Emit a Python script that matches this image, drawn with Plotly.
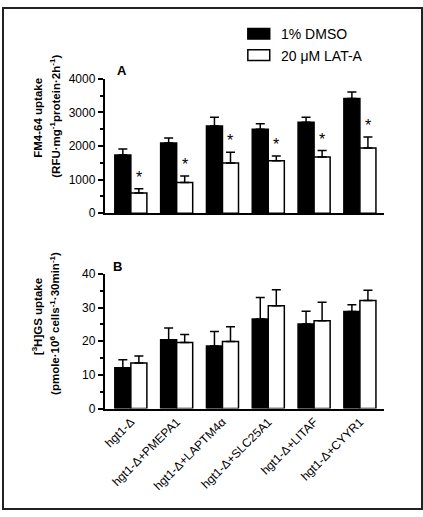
import plotly.graph_objects as go

W, H = 423, 517

categories = ["hgt1-Δ", "hgt1-Δ+PMEPA1", "hgt1-Δ+LAPTM4α",
              "hgt1-Δ+SLC25A1", "hgt1-Δ+LITAF", "hgt1-Δ+CYYR1"]
series_names = ["1% DMSO", "20 μM LAT-A"]

# Panel A: FM4-64 uptake
dmso_a = [1735, 2090, 2595, 2495, 2705, 3410]
dmso_a_err = [175, 145, 260, 165, 150, 195]
lat_a = [600, 915, 1495, 1560, 1675, 1940]
lat_a_err = [125, 190, 320, 145, 190, 325]
sig_a = [True, True, True, True, True, True]

# Panel B: [3H]GS uptake
dmso_b = [12.1, 20.4, 18.6, 26.6, 25.1, 28.8]
dmso_b_err = [2.4, 3.5, 4.3, 6.4, 3.8, 2.0]
lat_b = [13.5, 19.6, 19.9, 30.5, 26.1, 32.1]
lat_b_err = [2.1, 2.4, 4.4, 4.8, 5.5, 3.0]

ticks_a = [0, 1000, 2000, 3000, 4000]
ticks_b = [0, 10, 20, 30, 40]

FONT = "Liberation Sans"
xi = list(range(len(categories)))


def px_x(p):
    return p / W


def px_y(p):
    return 1 - p / H


fig = go.Figure()


def add_pair(vals_d, err_d, vals_l, err_l, xa, ya):
    for vals, err, fill in ((vals_d, err_d, "black"), (vals_l, err_l, "white")):
        fig.add_trace(go.Bar(
            x=xi, y=vals, xaxis=xa, yaxis=ya,
            marker=dict(color=fill, line=dict(color="black", width=1.5)),
            error_y=dict(type="data", array=err, arrayminus=[0] * len(err),
                         symmetric=False, color="black", thickness=1.5, width=4.5),
            showlegend=False, hoverinfo="skip"))


add_pair(dmso_a, dmso_a_err, lat_a, lat_a_err, "x", "y")
add_pair(dmso_b, dmso_b_err, lat_b, lat_b_err, "x2", "y2")

xr = [-0.575, 5.53]
xdom = [px_x(103), px_x(384)]
axis_common = dict(showline=True, linecolor="black", linewidth=1.5,
                   showgrid=False, zeroline=False)

yaxis_common = dict(axis_common, ticks="outside", ticklen=5, tickwidth=1.5,
                    tickcolor="black",
                    tickfont=dict(family=FONT, size=12, color="black"))

fig.update_layout(
    width=W, height=H, autosize=False,
    margin=dict(l=0, r=0, t=0, b=0, pad=0),
    paper_bgcolor="white", plot_bgcolor="white",
    barmode="group", bargap=0.30, bargroupgap=0,
    font=dict(family=FONT, color="black"),
    xaxis=dict(axis_common, domain=xdom, range=xr, anchor="y",
               showticklabels=False, ticks=""),
    yaxis=dict(yaxis_common, domain=[px_y(212), px_y(73.7)], range=[0, 4000],
               tickvals=ticks_a, anchor="x",
               minor=dict(ticks="outside", ticklen=3, tickwidth=1.5,
                          tickcolor="black", dtick=500)),
    xaxis2=dict(axis_common, domain=xdom, range=xr, anchor="y2",
                tickmode="array", tickvals=xi, ticktext=categories,
                tickangle=-45, ticks="",
                tickfont=dict(family=FONT, size=12, color="black")),
    yaxis2=dict(yaxis_common, domain=[px_y(412.7), px_y(274.3)], range=[0, 40],
                tickvals=ticks_b, anchor="x2",
                minor=dict(ticks="outside", ticklen=3, tickwidth=1.5,
                           tickcolor="black", dtick=5)),
)

ann = []
# significance stars
for i, (v, e, s) in enumerate(zip(lat_a, lat_a_err, sig_a)):
    if s:
        ann.append(dict(x=i + 0.175, y=v + e, xref="x", yref="y", text="*",
                        showarrow=False, yanchor="bottom", yshift=1,
                        font=dict(family=FONT, size=16, color="black")))
# panel labels
ann.append(dict(x=px_x(114), y=px_y(55), xref="paper", yref="paper", text="<b>A</b>",
                showarrow=False, xanchor="left", yanchor="top",
                font=dict(family=FONT, size=13)))
ann.append(dict(x=px_x(110), y=px_y(257), xref="paper", yref="paper", text="<b>B</b>",
                showarrow=False, xanchor="left", yanchor="top",
                font=dict(family=FONT, size=13)))
# y titles
ytitles = [
    ("<b>FM4-64 uptake</b>", 36, 114),
    ("<b>(RFU·mg<sup>-1</sup>protein·2h<sup>-1</sup>)</b>", 53, 112),
    ("<b>[<sup>3</sup>H]GS uptake</b>", 36, 318),
    ("<b>(pmole·10<sup>6</sup> cells<sup>-1</sup>·30min<sup>-1</sup>)</b>", 53, 325),
]
for t, xp, yp in ytitles:
    ann.append(dict(x=px_x(xp), y=px_y(yp), xref="paper", yref="paper", text=t,
                    textangle=-90, showarrow=False, xanchor="center", yanchor="middle",
                    font=dict(family=FONT, size=11.5)))
# legend text
for name, yp in zip(series_names, [28, 50]):
    ann.append(dict(x=px_x(278), y=px_y(yp), xref="paper", yref="paper", text=name,
                    showarrow=False, xanchor="left", yanchor="middle",
                    font=dict(family=FONT, size=14)))
fig.update_layout(annotations=ann)

shapes = []
for fill, (y0, y1) in zip(["black", "white"], [(22, 33), (44, 55)]):
    shapes.append(dict(type="rect", xref="paper", yref="paper",
                       x0=px_x(247), x1=px_x(269), y0=px_y(y1), y1=px_y(y0),
                       fillcolor=fill, line=dict(color="black", width=1.5)))
shapes.append(dict(type="rect", xref="paper", yref="paper",
                   x0=px_x(1), y0=px_y(H - 1), x1=px_x(W - 1), y1=px_y(1),
                   line=dict(color="#222222", width=2), fillcolor="rgba(0,0,0,0)"))
fig.update_layout(shapes=shapes)

fig.write_html("out.html", config={"displayModeBar": False, "responsive": False},
               post_script="document.body.style.margin='0';"
                           "document.body.style.overflow='hidden';"
                           "document.documentElement.style.overflow='hidden';")
